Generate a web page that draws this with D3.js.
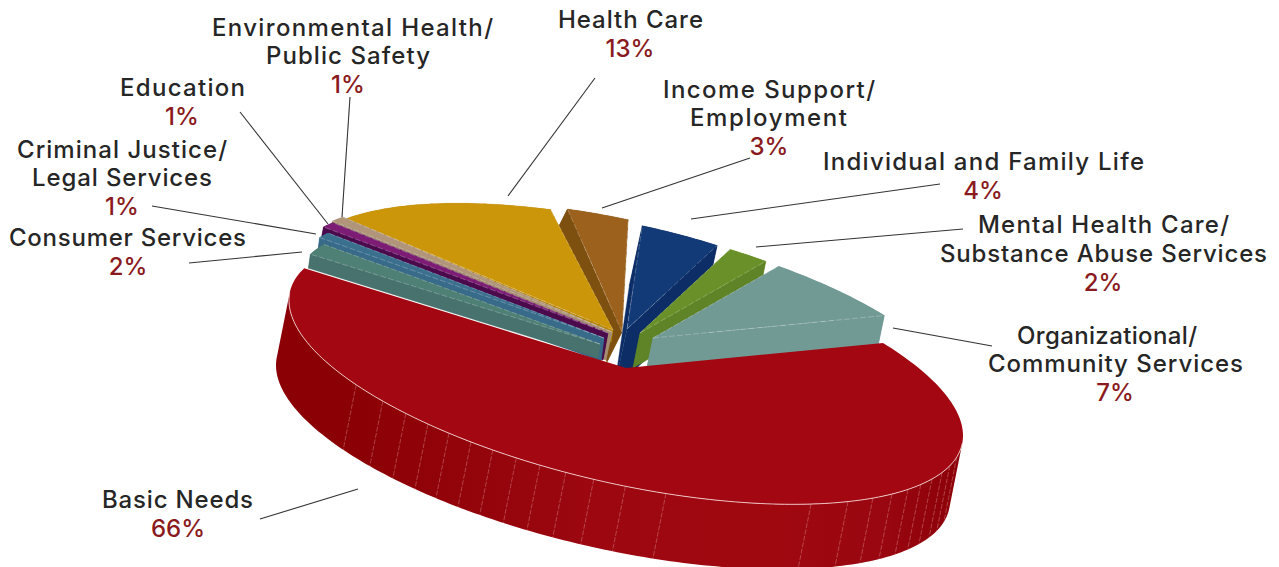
<!DOCTYPE html>
<html>
<head>
<meta charset="utf-8">
<style>
  html, body { margin: 0; padding: 0; background: #fff; overflow: hidden; }
  svg { display: block; }
  .label { font-family: Inter, "Open Sans", sans-serif; font-size: 24px; font-weight: 500; fill: #262626; }
  .pct { fill: #8a1a20; font-weight: 500; text-anchor: middle; }
</style>
</head>
<body>
<svg id="chart" width="1279" height="567"></svg>
<script src="https://cdn.jsdelivr.net/npm/d3@7"></script>
<script>
// Funding share by service area, clockwise from the large slice.
const categories = ["Basic Needs", "Consumer Services", "Criminal Justice/ Legal Services", "Education",
  "Environmental Health/ Public Safety", "Health Care", "Income Support/ Employment",
  "Individual and Family Life", "Mental Health Care/ Substance Abuse Services",
  "Organizational/ Community Services"];
const shares = [66, 2, 1, 1, 1, 13, 3, 4, 2, 7];

const topColors  = ["#a30812", "#4f8076", "#3b6f8e", "#7d1c74", "#b0957b", "#cc960a", "#9c611d", "#113a76", "#6a9129", "#729a95"];
const wallColors = ["#8f0008", "#48726e", "#386a8a", "#4a0a4c", "#a58d72", "#b5860a", "#7e500f", "#0c2d66", "#5f8427", "#729a95"];

// Slice geometry: explosion offset of each wedge tip, radius factor, wall depth, small twist in degrees.
const explodeX = [0, -26, -22, -18, -14, -13, -4, 1, 14, 27];
const explodeY = [0, -24, -30, -35, -36, -38, -36, -39, -35, -30];
const radiusK  = [1, .9, .92, .94, .95, .93, .96, .9, .9, .9];
const depthX   = [-13, -2, -3, -5, -6, -2, -15, -13, -7, -6];
const depthY   = [65, 14, 23, 27, 28, 12, 30, 60, 35, 29];
const twistDeg = [0, 0, -1, -2, -2.5, -3.6, -1.8, 0, 0, 0];
const paintOrder = [6, 7, 8, 9, 5, 4, 3, 2, 1, 0];

// Label lines: left edge, baseline and fitted width, plus percent position and leader ends.
const labelBlocks = [
  { i: 0, lines: [["Basic Needs", 102, 508, 151]], px: 178, py: 537, leader: [260, 519, 358, 489] },
  { i: 1, lines: [["Consumer Services", 9, 246, 237]], px: 128, py: 275, leader: [189, 263, 302, 252] },
  { i: 2, lines: [["Criminal Justice/", 17, 158, 210], ["Legal Services", 32, 186, 180]], px: 122, py: 215, leader: [152, 206, 316, 234] },
  { i: 3, lines: [["Education", 120, 96, 125]], px: 182, py: 125, leader: [240, 112, 328, 224] },
  { i: 4, lines: [["Environmental Health/", 212, 36, 281], ["Public Safety", 266, 64, 164]], px: 348, py: 93, leader: [350, 97, 342, 217] },
  { i: 5, lines: [["Health Care", 558, 28, 145]], px: 630, py: 57, leader: [595, 78, 508, 196] },
  { i: 6, lines: [["Income Support/", 663, 98, 212], ["Employment", 690, 126, 157]], px: 769, py: 155, leader: [750, 158, 602, 208] },
  { i: 7, lines: [["Individual and Family Life", 823, 170, 321]], px: 983, py: 199, leader: [940, 184, 691, 219] },
  { i: 8, lines: [["Mental Health Care/", 978, 233, 251], ["Substance Abuse Services", 940, 262, 327]], px: 1103, py: 291, leader: [963, 229, 756, 247] },
  { i: 9, lines: [["Organizational/", 1017, 344, 180], ["Community Services", 988, 372, 255]], px: 1115, py: 401, leader: [992, 346, 893, 328] }
];

// Facet seams on the deep wall of the large slice, in degrees around the disc.
const seamDegrees = [51.3, 56.4, 60.6, 65.1, 69.3, 73.5, 78.2, 83.2, 89.1, 97, 123.5, 130.4, 135.8, 140.6,
  145.1, 149.3, 153.6, 157.7, 162, 166.3, 171.1, 176.5, 183.5];

// Oblique view of the disc: unit circle mapped by two screen axis vectors.
const centre = [626, 368], axisA = [257, -25], axisB = [218, 134];
const project = (theta, r, ox = 0, oy = 0) => [
  centre[0] + ox + r * (axisA[0] * Math.cos(theta) + axisB[0] * Math.sin(theta)),
  centre[1] + oy + r * (axisA[1] * Math.cos(theta) + axisB[1] * Math.sin(theta))
];

const svg = d3.select("#chart");
const line = d3.line();
const pie = d3.pie().sort(null).value(d => d);
const arcs = pie(shares);

const arcPoints = (a0, a1, r, ox, oy) => {
  const steps = Math.max(2, Math.ceil((a1 - a0) / 0.02));
  return d3.range(steps + 1).map(k => project(a0 + (a1 - a0) * k / steps, r, ox, oy));
};

// Wall shading across the deep slice.
const shade = svg.append("defs").append("linearGradient")
  .attr("id", "wallShade").attr("gradientUnits", "userSpaceOnUse")
  .attr("x1", 280).attr("x2", 960).attr("y1", 0).attr("y2", 0);
[[0, "#8a0005"], [.1, "#8a0005"], [.45, "#9c0710"], [.7, "#a0080f"], [.88, "#9a0710"], [1, "#8c0008"]]
  .forEach(([o, c]) => shade.append("stop").attr("offset", o).attr("stop-color", c));

paintOrder.forEach(i => {
  const twist = twistDeg[i] * Math.PI / 180;
  const a0 = arcs[i].startAngle + twist, a1 = arcs[i].endAngle + twist;
  const r = radiusK[i], ox = explodeX[i], oy = explodeY[i], dx = depthX[i], dy = depthY[i];
  const g = svg.append("g").attr("class", "slice");
  const tip = [centre[0] + ox, centre[1] + oy];
  const shift = p => [p[0] + dx, p[1] + dy];
  const outer = arcPoints(a0, a1, r, ox, oy);

  if (i === 0) {
    // Silhouette angles where the rim tangent runs along the extrusion direction.
    const cross = (u, v) => u[0] * v[1] - u[1] * v[0];
    const dir = [dx, dy];
    const right = Math.atan2(cross(axisB, dir), cross(axisA, dir));
    const left = right + Math.PI;
    const rim = arcPoints(right, left, 1, 0, 0);
    g.append("path").attr("d", line(rim.concat(rim.map(shift).reverse())) + "Z").attr("fill", "url(#wallShade)");
    seamDegrees.forEach(deg => {
      const p = project(deg * Math.PI / 180, 1);
      g.append("line").attr("x1", p[0]).attr("y1", p[1]).attr("x2", p[0] + dx).attr("y2", p[1] + dy)
        .attr("stroke", "#e8b4b4").attr("stroke-opacity", .45).attr("stroke-width", .8).attr("stroke-dasharray", "5 1.5");
    });
    g.append("path").attr("d", line([tip].concat(outer)) + "Z").attr("fill", topColors[i]);
    g.append("path").attr("d", line(rim)).attr("fill", "none").attr("stroke", "#f2cfcf").attr("stroke-width", .9);
    return;
  }

  // Side walls first, then the wedge's top face.
  const faces = [
    [tip, outer[0], shift(outer[0]), shift(tip)],
    [tip, outer[outer.length - 1], shift(outer[outer.length - 1]), shift(tip)],
    outer.concat(outer.map(shift).reverse())
  ];
  faces.forEach(f => g.append("path").attr("d", line(f) + "Z").attr("fill", wallColors[i]).attr("stroke", wallColors[i]).attr("stroke-width", .3));
  g.append("path").attr("d", line([tip].concat(outer)) + "Z").attr("fill", topColors[i]);
  [[tip, outer[0]], [tip, outer[outer.length - 1]]].forEach(seg =>
    g.append("path").attr("d", line(seg)).attr("fill", "none").attr("stroke", "#fff")
      .attr("stroke-opacity", .35).attr("stroke-width", .7).attr("stroke-dasharray", "6 2"));
});

// Leader lines and labels.
labelBlocks.forEach(b => {
  svg.append("line").attr("x1", b.leader[0]).attr("y1", b.leader[1]).attr("x2", b.leader[2]).attr("y2", b.leader[3])
    .attr("stroke", "#333").attr("stroke-width", 1.1);
  b.lines.forEach(([t, x, y, w]) => svg.append("text").attr("class", "label").attr("x", x).attr("y", y)
    .attr("textLength", w).attr("lengthAdjust", "spacing").text(t));
  svg.append("text").attr("class", "label pct").attr("x", b.px).attr("y", b.py).text(shares[b.i] + "%");
});
</script>
</body>
</html>
